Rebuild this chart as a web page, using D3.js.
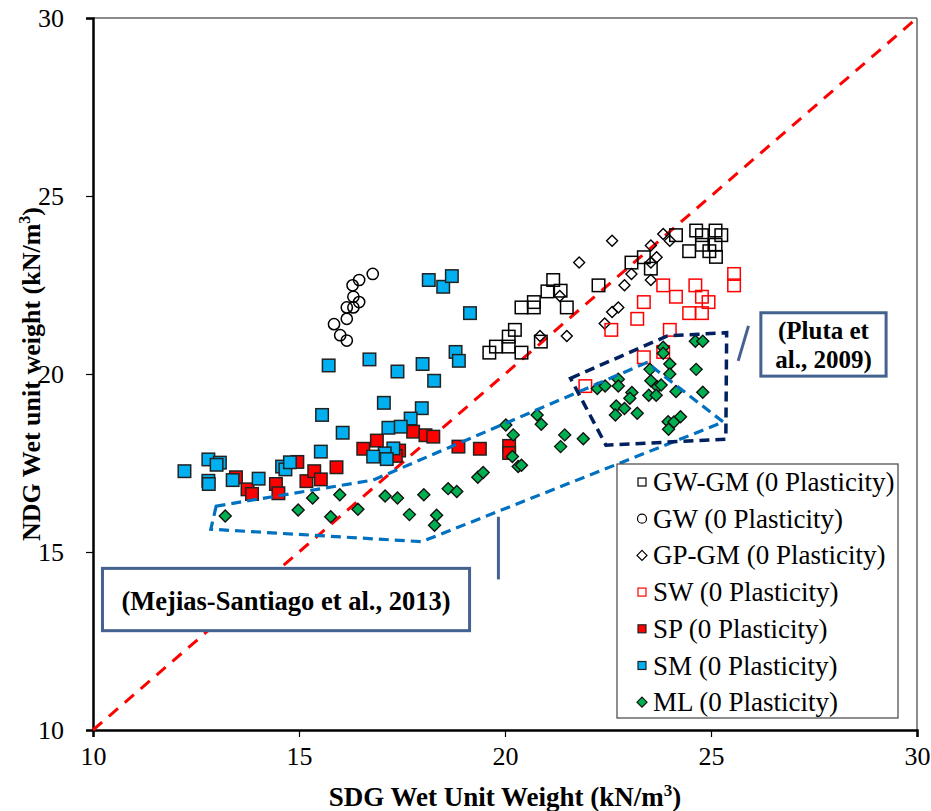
<!DOCTYPE html>
<html><head><meta charset="utf-8">
<script src="https://cdn.jsdelivr.net/npm/d3@7"></script>
<style>body{margin:0;background:#fff}svg{display:block}text{font-family:"Liberation Serif","Times New Roman",serif}</style>
</head><body><svg id="c" width="931" height="811"></svg>
<script>
const xTicks=[10,15,20,25,30];
const yTicks=[10,15,20,25,30];
const seriesNames=["GW-GM (0 Plasticity)","GW (0 Plasticity)","GP-GM (0 Plasticity)","SW (0 Plasticity)","SP (0 Plasticity)","SM (0 Plasticity)","ML (0 Plasticity)"];
const gwgm=[[19.62,20.60],[19.78,20.77],[20.09,20.77],[20.09,21.05],[20.24,21.24],[20.40,20.60],[20.87,20.91],[20.40,21.87],[20.70,21.87],[20.70,22.02],[21.03,22.32],[21.17,22.64],[21.35,22.34],[21.50,21.87],[22.27,22.49],[23.07,23.13],[23.37,23.28],[23.54,22.96],[24.15,23.90],[24.64,24.03],[24.78,23.90],[25.11,24.03],[25.25,23.90],[24.47,23.45],[24.78,23.63],[25.11,23.63],[25.12,23.29],[24.96,23.45]];
const gw=[[16.79,22.81],[16.46,22.64],[16.30,22.49],[16.46,22.02],[16.32,22.17],[16.32,21.87],[16.16,21.87],[16.16,21.55],[15.85,21.40],[16.00,21.09],[16.16,20.94]];
const gpgm=[[22.60,23.74],[21.80,23.13],[20.85,21.07],[21.50,21.07],[21.33,22.19],[22.90,22.49],[23.07,22.81],[22.60,21.74],[22.75,21.87],[22.42,21.42],[23.54,23.61],[23.68,23.28],[23.54,23.13],[23.54,22.64],[23.84,23.93],[24.00,23.74]];
const sw=[[23.84,22.49],[24.15,22.17],[24.62,22.49],[24.78,22.17],[24.94,22.02],[24.47,21.71],[24.78,21.71],[25.56,22.81],[25.56,22.49],[23.37,22.02],[23.21,21.55],[22.58,21.24],[24.00,21.24],[23.37,20.47],[23.84,20.62],[21.95,19.66]];
const sp=[[13.47,17.10],[13.75,16.76],[13.86,16.63],[14.44,16.91],[14.50,16.65],[14.96,17.53],[15.18,16.99],[15.37,17.27],[15.53,17.04],[15.91,17.38],[16.56,17.90],[16.89,18.13],[17.43,17.85],[17.35,17.70],[17.77,18.38],[18.07,18.28],[18.26,18.24],[18.87,17.96],[19.39,17.90],[20.10,17.98],[20.10,17.78]];
const sm=[[18.15,22.64],[18.50,22.45],[18.71,22.75],[19.15,21.71],[15.72,20.24],[16.71,20.41],[17.39,20.07],[18.00,20.28],[18.28,19.81],[18.80,20.62],[18.88,20.37],[17.06,19.19],[17.98,19.04],[17.71,18.75],[15.56,18.85],[16.06,18.35],[17.17,18.49],[17.47,18.52],[15.53,17.82],[17.29,17.91],[17.08,17.77],[16.80,17.68],[17.13,17.61],[12.22,17.27],[12.80,17.60],[13.08,17.51],[12.80,17.00],[12.81,16.91],[13.39,17.02],[14.02,17.06],[14.59,17.40],[14.67,17.32],[14.78,17.52],[13.00,17.45]];
const ml=[[13.21,16.01],[14.98,16.18],[15.33,16.52],[15.77,15.99],[15.99,16.61],[16.43,16.20],[17.09,16.57],[17.39,16.52],[17.68,16.05],[18.03,16.61],[18.34,16.03],[18.29,15.75],[18.62,16.78],[18.83,16.70],[19.34,17.10],[19.47,17.23],[20.02,18.57],[20.20,18.29],[20.78,18.85],[20.88,18.59],[21.45,18.29],[21.35,17.96],[21.90,18.18],[20.18,17.68],[20.32,17.40],[20.40,17.44],[22.24,19.59],[22.43,19.66],[22.75,19.85],[22.75,19.66],[23.52,20.13],[23.54,19.81],[23.70,19.64],[23.79,19.69],[23.49,19.40],[23.67,19.40],[23.08,19.48],[23.03,19.32],[22.70,19.10],[22.90,19.03],[22.68,18.85],[23.21,18.90],[23.84,20.75],[23.84,20.58],[24.00,20.28],[24.00,20.00],[24.15,19.51],[24.64,20.13],[24.80,19.49],[24.62,20.92],[24.80,20.92],[23.96,18.66],[24.10,18.65],[24.26,18.80],[23.97,18.45]];
const mejiasZone=[[12.99,16.29],[12.86,15.64],[17.98,15.29],[25.30,18.65],[23.44,20.32],[16.80,17.02]];
const plutaZone=[[21.59,19.88],[23.94,21.07],[25.38,21.16],[25.36,18.17],[22.45,18.00]];
const oneToOne=[[10,10],[30,30]];
const mejiasBox=[[10.23,14.54],[19.14,12.79]], mejiasPointer=[[19.84,15.99],[19.84,14.23]];
const plutaBox=[[26.21,21.72],[29.25,19.94]], plutaPointer=[[25.91,21.35],[25.66,20.37]];

const svg=d3.select("#c");
const x=d3.scaleLinear().domain([10,30]).range([93,917]);
const y=d3.scaleLinear().domain([10,30]).range([730,18]);

// frame top/right
svg.append("line").attr("x1",x(10)).attr("x2",x(30)).attr("y1",y(30)).attr("y2",y(30)).attr("stroke","#666").attr("stroke-width",1.5);
svg.append("line").attr("x1",x(30)).attr("x2",x(30)).attr("y1",y(30)).attr("y2",y(10)).attr("stroke","#666").attr("stroke-width",1.5);

// axes
const gx=svg.append("g").attr("transform",`translate(0,${y(10)})`);
gx.call(d3.axisBottom(x).tickValues(d3.range(10,31,1)).tickSize(6).tickFormat(""));
gx.call(d3.axisBottom(x).tickValues(xTicks).tickSize(7).tickFormat(d=>d));
gx.attr("font-family",null);
gx.selectAll("text").attr("font-size",26).attr("fill","#000").attr("dy","0.95em");
gx.selectAll("path.domain").attr("stroke","#000").attr("stroke-width",2.5);
gx.selectAll("line").attr("stroke","#000").attr("stroke-width",1.2);
const gy=svg.append("g").attr("transform",`translate(${x(10)},0)`);
gy.call(d3.axisLeft(y).tickValues(d3.range(10,31,1)).tickSize(4).tickFormat(""));
gy.call(d3.axisLeft(y).tickValues(yTicks).tickSize(7).tickPadding(22).tickFormat(d=>d));
gy.attr("font-family",null);
gy.selectAll("text").attr("font-size",26).attr("fill","#000");
gy.selectAll("path.domain").attr("stroke","#000").attr("stroke-width",2.5);
gy.selectAll("line").attr("stroke","#000").attr("stroke-width",1.2);

// titles
svg.append("text").attr("x",505).attr("y",806).attr("text-anchor","middle").attr("font-weight","bold").attr("font-size",27)
  .html('SDG Wet Unit Weight (kN/m<tspan dy="-10" font-size="17">3</tspan><tspan dy="10">)</tspan>');
svg.append("text").attr("transform","translate(40,374) rotate(-90)").attr("text-anchor","middle").attr("font-weight","bold").attr("font-size",26)
  .html('NDG Wet unit weight (kN/m<tspan dy="-10" font-size="16">3</tspan><tspan dy="10">)</tspan>');

// 1:1 line
const line=d3.line().x(d=>x(d[0])).y(d=>y(d[1]));
svg.append("path").attr("d",line(oneToOne)).attr("stroke","#FF0000").attr("stroke-width",3).attr("stroke-dasharray","12,9").attr("fill","none");

// markers
const S=12.5;
function squares(data,fill,stroke){
  svg.append("g").selectAll("rect").data(data).join("rect")
    .attr("x",d=>x(d[0])-S/2).attr("y",d=>y(d[1])-S/2).attr("width",S).attr("height",S)
    .attr("fill",fill).attr("stroke",stroke).attr("stroke-width",1.5);
}
function diamonds(data,fill,stroke,r){
  svg.append("g").selectAll("path").data(data).join("path")
    .attr("d",d=>{const cx=x(d[0]),cy=y(d[1]);return `M${cx},${cy-r}L${cx+r},${cy}L${cx},${cy+r}L${cx-r},${cy}Z`;})
    .attr("fill",fill).attr("stroke",stroke).attr("stroke-width",1.4);
}
squares(gwgm,"none","#000");
svg.append("g").selectAll("circle").data(gw).join("circle").attr("cx",d=>x(d[0])).attr("cy",d=>y(d[1])).attr("r",5.6)
  .attr("fill","none").attr("stroke","#000").attr("stroke-width",1.5);
diamonds(gpgm,"none","#000",5.5);
squares(sw,"none","#FF0000");
squares(sp,"#FF0000","#222");
squares(sm,"#00B0F0","#222");
diamonds(ml,"#00B050","#111",6);

// zones
svg.append("path").attr("d",line(mejiasZone)+"Z").attr("fill","none").attr("stroke","#0070C0").attr("stroke-width",3.2).attr("stroke-dasharray","10,6");
svg.append("path").attr("d",line(plutaZone)+"Z").attr("fill","none").attr("stroke","#002060").attr("stroke-width",3.5).attr("stroke-dasharray","10,6");

// callouts
const boxCol="#44628F";
function box(b){
  svg.append("rect").attr("x",x(b[0][0])).attr("y",y(b[0][1])).attr("width",x(b[1][0])-x(b[0][0])).attr("height",y(b[1][1])-y(b[0][1]))
    .attr("fill","#fff").attr("stroke",boxCol).attr("stroke-width",3);
}
box(mejiasBox); box(plutaBox);
svg.append("path").attr("d",line(mejiasPointer)).attr("stroke",boxCol).attr("stroke-width",3);
svg.append("path").attr("d",line(plutaPointer)).attr("stroke",boxCol).attr("stroke-width",3);
svg.append("text").attr("x",(x(mejiasBox[0][0])+x(mejiasBox[1][0]))/2).attr("y",610).attr("text-anchor","middle")
  .attr("font-weight","bold").attr("font-size",26.5).text("(Mejias-Santiago et al., 2013)");
const pcx=(x(plutaBox[0][0])+x(plutaBox[1][0]))/2;
svg.append("text").attr("x",pcx).attr("y",339).attr("text-anchor","middle").attr("font-weight","bold").attr("font-size",25).text("(Pluta et");
svg.append("text").attr("x",pcx).attr("y",368).attr("text-anchor","middle").attr("font-weight","bold").attr("font-size",25).text("al., 2009)");

// legend
const lg=svg.append("g");
lg.append("rect").attr("x",617).attr("y",464).attr("width",281).attr("height",254).attr("fill","#fff").attr("stroke","#444").attr("stroke-width",1.2);
const styles=[
  {t:"sq",f:"#fff",s:"#000"},{t:"ci",f:"#fff",s:"#000"},{t:"di",f:"#fff",s:"#000"},
  {t:"sq",f:"#fff",s:"#FF0000"},{t:"sq",f:"#FF0000",s:"#222"},{t:"sq",f:"#00B0F0",s:"#222"},{t:"di",f:"#00B050",s:"#111"}];
seriesNames.forEach((n,i)=>{
  const cy=482+i*36.7, cx=642;
  const st=styles[i];
  if(st.t==="sq") lg.append("rect").attr("x",cx-4).attr("y",cy-4).attr("width",8).attr("height",8).attr("fill",st.f).attr("stroke",st.s).attr("stroke-width",1.2);
  else if(st.t==="ci") lg.append("circle").attr("cx",cx).attr("cy",cy).attr("r",4.5).attr("fill",st.f).attr("stroke",st.s).attr("stroke-width",1.2);
  else lg.append("path").attr("d",`M${cx},${cy-5}L${cx+5},${cy}L${cx},${cy+5}L${cx-5},${cy}Z`).attr("fill",st.f).attr("stroke",st.s).attr("stroke-width",1.2);
  lg.append("text").attr("x",653).attr("y",cy+9).attr("font-size",27).text(n);
});
</script></body></html>
